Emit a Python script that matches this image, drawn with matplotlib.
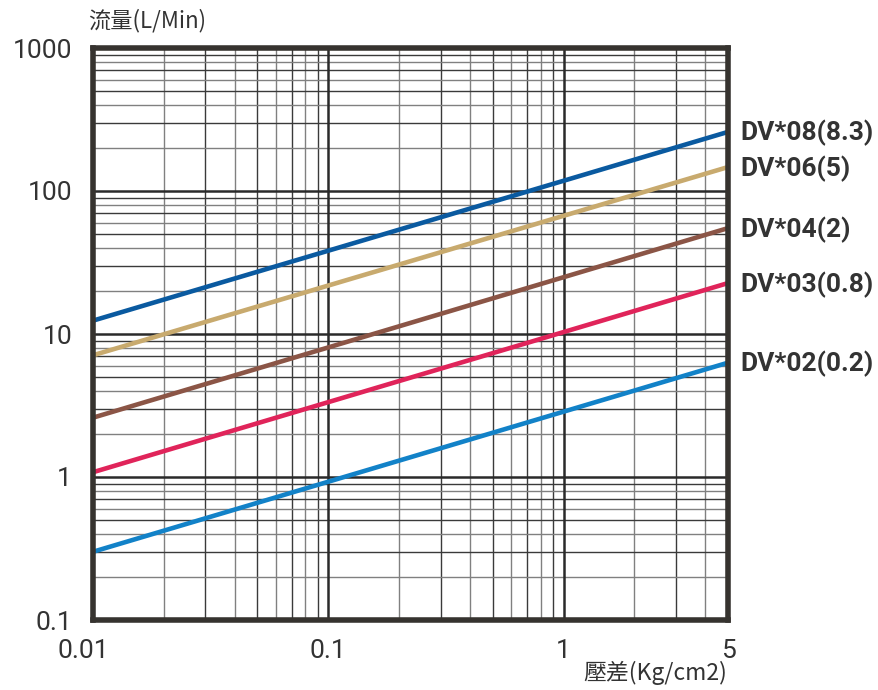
import matplotlib
matplotlib.use("Agg")
import matplotlib.pyplot as plt
from matplotlib.ticker import FixedLocator, NullFormatter
import matplotlib.transforms as mtransforms
import numpy as np

# Data
pressure_ends = [0.01, 5]
series_names = ["DV*08(8.3)", "DV*06(5)", "DV*04(2)", "DV*03(0.8)", "DV*02(0.2)"]
flow_at_ends = [
    [12.4, 259],
    [7.1, 147],
    [2.6, 55],
    [1.08, 22.7],
    [0.30, 6.3],
]
series_colors = ["#0a5aa0", "#c8aa6e", "#8b5546", "#e0245a", "#1282c8"]

x_ticks = [0.01, 0.1, 1, 5]
x_tick_labels = ["0.01", "0.1", "1", "5"]
y_ticks = [0.1, 1, 10, 100, 1000]
y_tick_labels = ["0.1", "1", "10", "100", "1000"]

ylabel_text = "流量(L/Min)"
xlabel_text = "壓差(Kg/cm2)"

text_color = "#333333"
frame_color = "#36332f"

fig = plt.figure(figsize=(8.79, 6.90), dpi=100)
ax = fig.add_axes([93/879, 1-620/690, (728-93)/879, (620-48)/690])
ax.set_xscale("log")
ax.set_yscale("log")
ax.set_xlim(0.01, 5)
ax.set_ylim(0.1, 1000)

# grid
xminor = [m * 10.0**e for e in (-2, -1, 0) for m in range(2, 10) if m * 10.0**e < 5]
yminor = [m * 10.0**e for e in (-1, 0, 1, 2) for m in range(2, 10)]
for i, xv in enumerate(xminor):
    ax.axvline(xv, color="#3a3a3a" if i % 2 else "#808080", lw=1.0, zorder=1)
for i, yv in enumerate(yminor):
    ax.axhline(yv, color="#3a3a3a" if i % 2 else "#808080", lw=1.0, zorder=1)
for xv in [0.1, 1]:
    ax.axvline(xv, color="#2a2a2a", lw=1.8, zorder=1)
for yv in [1, 10, 100]:
    ax.axhline(yv, color="#2a2a2a", lw=1.8, zorder=1)

for name, vals, c in zip(series_names, flow_at_ends, series_colors):
    ax.plot(pressure_ends, vals, color=c, lw=3.3, solid_capstyle="butt", zorder=3, clip_on=False)
    ax.annotate(name, xy=(pressure_ends[-1], vals[-1]), xycoords="data",
                xytext=(9, -1), textcoords="offset points", ha="left", va="center",
                fontsize=19, fontweight="bold", family=["Roboto", "DejaVu Sans"],
                color=text_color, annotation_clip=False)

for s in ax.spines.values():
    s.set_linewidth(4)
    s.set_color(frame_color)
    s.set_zorder(5)

ax.xaxis.set_major_locator(FixedLocator(x_ticks))
ax.set_xticklabels(x_tick_labels)
ax.yaxis.set_major_locator(FixedLocator(y_ticks))
ax.set_yticklabels(y_tick_labels)
ax.xaxis.set_minor_formatter(NullFormatter())
ax.yaxis.set_minor_formatter(NullFormatter())
ax.tick_params(which="both", length=0)
ax.tick_params(axis="x", pad=14)
ax.tick_params(axis="y", pad=15)
for lab in ax.get_xticklabels() + ax.get_yticklabels():
    lab.set_family(["Roboto", "DejaVu Sans"])
    lab.set_fontsize(19)
    lab.set_color(text_color)

# shift first x label slightly left as in the reference
first = ax.get_xticklabels()[0]
first.set_transform(first.get_transform() + mtransforms.ScaledTranslation(-10/100, 0, fig.dpi_scale_trans))

fig.text(88/879, 1-21/690, ylabel_text, ha="left", va="center", fontsize=16,
         family=["Noto Sans CJK TC", "DejaVu Sans"], color=text_color)
fig.text(727/879, 1-673/690, xlabel_text, ha="right", va="center", fontsize=16.5,
         family=["Noto Sans CJK TC", "DejaVu Sans"], color=text_color)

fig.savefig("out.png", dpi=100, facecolor="white")
